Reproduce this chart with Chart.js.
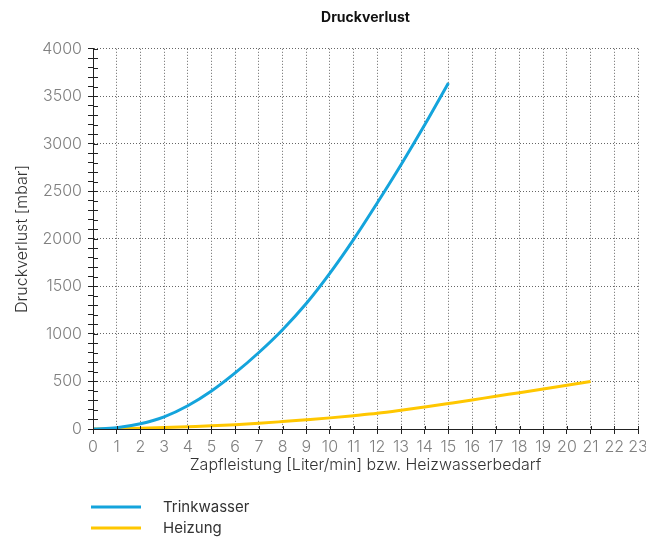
<!DOCTYPE html>
<html>
<head>
<meta charset="utf-8">
<script src="https://cdn.jsdelivr.net/npm/chart.js@4"></script>
<style>
  html, body { margin: 0; padding: 0; background: #fff; }
  #wrap { width: 646px; height: 540px; }
</style>
</head>
<body>
<div id="wrap"><canvas id="chart" width="646" height="540"></canvas></div>
<script>
const xTrinkwasser = [0, 1, 2, 3, 4, 5, 6, 7, 8, 9, 10, 11, 12, 13, 14, 15];
const trinkwasser  = [0, 14, 55, 128, 245, 400, 590, 805, 1045, 1320, 1640, 1995, 2380, 2780, 3200, 3640];

const xHeizung = [0, 1, 2, 3, 4, 5, 6, 7, 8, 9, 10, 11, 12, 13, 14, 15, 16, 17, 18, 19, 20, 21];
const heizung  = [0, 3, 8, 15, 24, 33, 45, 60, 78, 97, 117, 140, 165, 197, 232, 268, 305, 345, 382, 421, 460, 500];

const seriesNames = ['Trinkwasser', 'Heizung'];
const blue   = '#14a4dc';
const yellow = '#ffc700';

const FONT = "Inter, 'Noto Sans', sans-serif";

const toPoints = (xs, ys) => xs.map((x, i) => ({ x, y: ys[i] }));

// tick marks that cross the axis lines (inside part)
const crossTicks = {
  id: 'crossTicks',
  afterDatasetsDraw(chart) {
    const { ctx, scales: { x, y } } = chart;
    ctx.save();
    ctx.strokeStyle = '#222';
    ctx.lineWidth = 1;
    ctx.beginPath();
    y.ticks.forEach(t => {
      const py = Math.round(y.getPixelForValue(t.value)) + 0.5;
      ctx.moveTo(y.right, py);
      ctx.lineTo(y.right + 5, py);
    });
    x.ticks.forEach(t => {
      const px = Math.round(x.getPixelForValue(t.value)) + 0.5;
      ctx.moveTo(px, x.top);
      ctx.lineTo(px, x.top - 3);
    });
    ctx.stroke();
    ctx.restore();
  }
};

// legend stacked under the x axis title
const stackedLegend = {
  id: 'stackedLegend',
  afterDraw(chart) {
    const { ctx, chartArea } = chart;
    ctx.save();
    ctx.font = '15px ' + FONT;
    ctx.textBaseline = 'middle';
    chart.data.datasets.forEach((ds, i) => {
      const y = chartArea.bottom + 78 + i * 21;
      ctx.strokeStyle = ds.borderColor;
      ctx.lineWidth = 3;
      ctx.beginPath();
      ctx.moveTo(91, y);
      ctx.lineTo(141, y);
      ctx.stroke();
      ctx.fillStyle = '#333';
      ctx.fillText(ds.label, 163, y);
    });
    ctx.restore();
  }
};

new Chart(document.getElementById('chart'), {
  type: 'line',
  data: {
    datasets: [
      {
        label: seriesNames[0],
        data: toPoints(xTrinkwasser, trinkwasser),
        borderColor: blue,
        backgroundColor: blue,
        borderWidth: 3,
        pointRadius: 0,
        tension: 0.4,
        cubicInterpolationMode: 'monotone'
      },
      {
        label: seriesNames[1],
        data: toPoints(xHeizung, heizung),
        borderColor: yellow,
        backgroundColor: yellow,
        borderWidth: 3,
        pointRadius: 0,
        tension: 0.4,
        cubicInterpolationMode: 'monotone'
      }
    ]
  },
  options: {
    responsive: false,
    animation: false,
    layout: { padding: { left: 0, right: 8, top: 0, bottom: 60 } },
    plugins: {
      legend: { display: false },
      tooltip: { enabled: false },
      title: {
        display: true,
        text: 'Druckverlust',
        fullSize: false,
        color: '#111',
        font: { family: FONT, size: 14, weight: 'bold' },
        padding: { top: 9, bottom: 23 }
      }
    },
    scales: {
      x: {
        type: 'linear',
        min: 0,
        max: 23,
        afterFit(scale) {
          scale.height = 51;
          scale.paddingLeft = 0;
          scale.paddingRight = 0;
        },
        ticks: {
          stepSize: 1,
          autoSkip: false,
          maxRotation: 0,
          padding: 4,
          color: '#808080',
          font: { family: FONT, size: 16, weight: 300 }
        },
        grid: {
          color: '#666',
          lineWidth: 1,
          tickColor: '#222',
          tickLength: 5
        },
        border: { color: '#222', width: 1, dash: [1, 2] },
        title: {
          display: true,
          text: 'Zapfleistung [Liter/min] bzw. Heizwasserbedarf',
          color: '#333',
          font: { family: FONT, size: 16, weight: 300 },
          padding: { top: 0, bottom: 5 }
        }
      },
      y: {
        min: 0,
        max: 4000,
        afterFit(scale) {
          scale.width = 93;
        },
        ticks: {
          stepSize: 100,
          autoSkip: false,
          padding: 6,
          color: '#808080',
          font: { family: FONT, size: 16, weight: 300 },
          callback: v => (v % 500 === 0 ? v : '')
        },
        grid: {
          color: ctx => (ctx.tick && ctx.tick.value % 500 === 0 ? '#666' : 'rgba(0,0,0,0)'),
          lineWidth: 1,
          tickColor: '#222',
          tickLength: 5
        },
        border: { color: '#222', width: 1, dash: [1, 2] },
        title: {
          display: true,
          text: 'Druckverlust [mbar]',
          color: '#333',
          font: { family: FONT, size: 16, weight: 300 },
          padding: { top: 13, bottom: 0 }
        }
      }
    }
  },
  plugins: [crossTicks, stackedLegend]
});
</script>
</body>
</html>
